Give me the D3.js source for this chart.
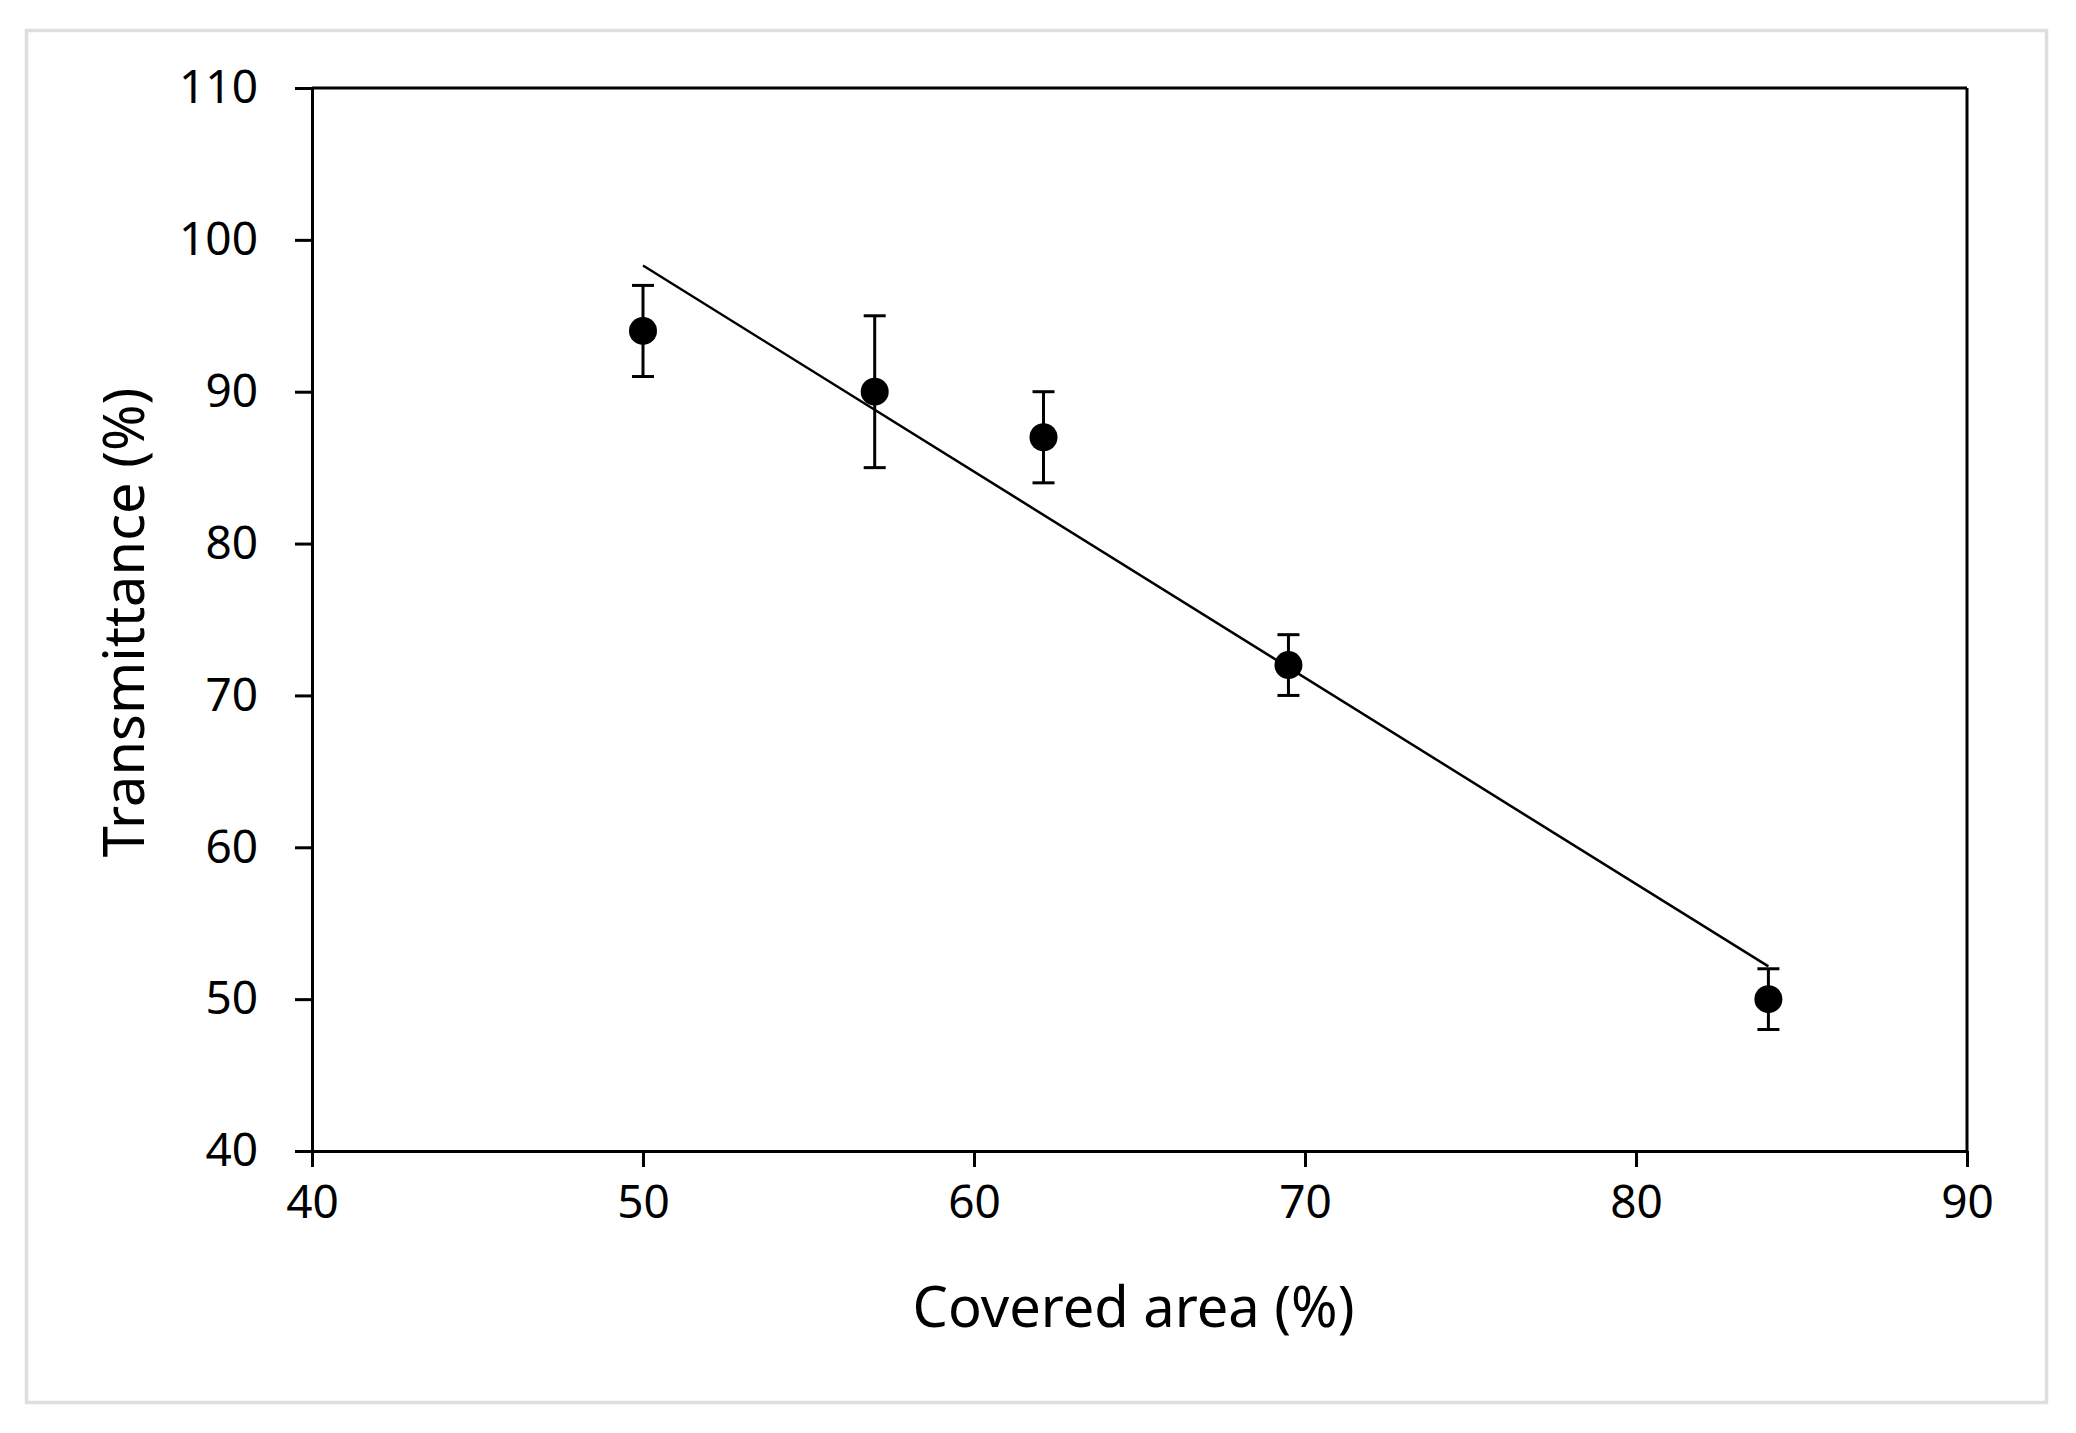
<!DOCTYPE html>
<html>
<head>
<meta charset="utf-8">
<script src="https://cdn.jsdelivr.net/npm/d3@7"></script>
<style>
  html, body { margin: 0; padding: 0; background: #fff; }
  svg { display: block; }
  text { font-family: "Noto Sans", "Open Sans", sans-serif; fill: #000; }
</style>
</head>
<body>
<svg id="chart" width="2076" height="1433"></svg>
<script>
// ---- data ----
const coveredArea = [50, 57, 62.1, 69.5, 84];
const transmittance = [94, 90, 87, 72, 50];
const errUpper = [97, 95, 90, 74, 52];
const errLower = [91, 85, 84, 70, 48];
const xTicks = [40, 50, 60, 70, 80, 90];
const yTicks = [40, 50, 60, 70, 80, 90, 100, 110];
const xLabel = "Covered area (%)";
const yLabel = "Transmittance (%)";

// ---- layout ----
const svg = d3.select("#chart");
const L = 312, R = 1967, T = 88, B = 1151;
const x = d3.scaleLinear().domain([40, 90]).range([L, R]);
const y = d3.scaleLinear().domain([40, 110]).range([B, T]);

// outer frame
svg.append("rect").attr("x", 26.5).attr("y", 30.5).attr("width", 2020).attr("height", 1372)
  .attr("fill", "none").attr("stroke", "#dedede").attr("stroke-width", 3.5);

// plot box (top & right)
svg.append("line").attr("x1", L).attr("x2", R).attr("y1", T).attr("y2", T)
  .attr("stroke", "#000").attr("stroke-width", 3);
svg.append("line").attr("x1", R).attr("x2", R).attr("y1", T).attr("y2", B)
  .attr("stroke", "#000").attr("stroke-width", 3);

// axes
const xAxis = svg.append("g").attr("transform", `translate(0,${B})`)
  .call(d3.axisBottom(x).tickValues(xTicks).tickSize(16).tickPadding(18).tickSizeOuter(0).tickFormat(d3.format("d")));
const yAxis = svg.append("g").attr("transform", `translate(${L},0)`)
  .call(d3.axisLeft(y).tickValues(yTicks).tickSize(17).tickPadding(37).tickSizeOuter(0).tickFormat(d3.format("d")));
[xAxis, yAxis].forEach(g => {
  g.select(".domain").attr("stroke", "#000").attr("stroke-width", 3);
  g.selectAll(".tick line").attr("stroke", "#000").attr("stroke-width", 3);
  g.selectAll(".tick text").style("font-family", '"Noto Sans", sans-serif').style("font-size", "46px").attr("fill", "#000");
});
xAxis.selectAll(".tick text").attr("dy", "0.71em");

// trend line (least squares fit of the data)
const n = coveredArea.length;
const mx = d3.mean(coveredArea), my = d3.mean(transmittance);
let sxy = 0, sxx = 0;
for (let i = 0; i < n; i++) { sxy += (coveredArea[i] - mx) * (transmittance[i] - my); sxx += (coveredArea[i] - mx) ** 2; }
const slope = sxy / sxx, intercept = my - slope * mx;
const xMin = d3.min(coveredArea), xMax = d3.max(coveredArea);
svg.append("line")
  .attr("x1", x(xMin)).attr("y1", y(slope * xMin + intercept))
  .attr("x2", x(xMax)).attr("y2", y(slope * xMax + intercept))
  .attr("stroke", "#000").attr("stroke-width", 2.5);

// error bars
const pts = coveredArea.map((v, i) => ({ x: v, y: transmittance[i], hi: errUpper[i], lo: errLower[i] }));
const eb = svg.append("g").attr("stroke", "#000").attr("stroke-width", 3);
eb.selectAll(".v").data(pts).join("line")
  .attr("x1", d => x(d.x)).attr("x2", d => x(d.x)).attr("y1", d => y(d.hi)).attr("y2", d => y(d.lo));
eb.selectAll(".ct").data(pts).join("line")
  .attr("x1", d => x(d.x) - 11).attr("x2", d => x(d.x) + 11).attr("y1", d => y(d.hi)).attr("y2", d => y(d.hi));
eb.selectAll(".cb").data(pts).join("line")
  .attr("x1", d => x(d.x) - 11).attr("x2", d => x(d.x) + 11).attr("y1", d => y(d.lo)).attr("y2", d => y(d.lo));

// markers
svg.append("g").selectAll("circle").data(pts).join("circle")
  .attr("cx", d => x(d.x)).attr("cy", d => y(d.y)).attr("r", 14).attr("fill", "#000");

// axis titles
svg.append("text").attr("x", (L + R) / 2 - 6).attr("y", 1327).attr("text-anchor", "middle")
  .style("font-size", "56px").text(xLabel);
svg.append("text").attr("transform", `translate(144,${(T + B) / 2 + 3}) rotate(-90)`).attr("text-anchor", "middle")
  .style("font-size", "56px").text(yLabel);
</script>
</body>
</html>
